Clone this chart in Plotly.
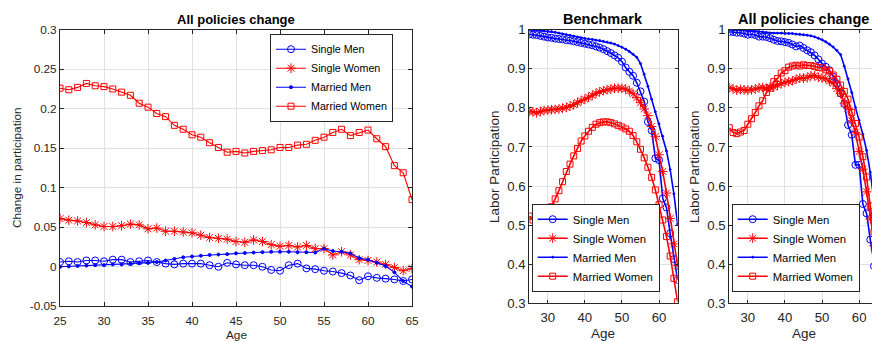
import plotly.graph_objects as go

# ---------------- data ----------------
ages = list(range(25, 66))

series_names = ["Single Men", "Single Women", "Married Men", "Married Women"]

# Left panel: change in participation (all policies - benchmark)
chg_single_men = [0.006, 0.007, 0.006, 0.008, 0.008, 0.007, 0.009, 0.009, 0.006, 0.007,
                  0.008, 0.006, 0.004, 0.003, 0.004, 0.004, 0.004, 0.002, 0.000, 0.005,
                  0.003, 0.002, 0.002, 0.000, -0.004, -0.005, 0.002, 0.004, -0.002, -0.003,
                  -0.005, -0.006, -0.008, -0.011, -0.017, -0.012, -0.014, -0.015, -0.016, -0.018,
                  -0.016]
chg_single_women = [0.061, 0.059, 0.058, 0.056, 0.053, 0.051, 0.051, 0.052, 0.054, 0.053,
                    0.048, 0.049, 0.045, 0.045, 0.044, 0.043, 0.040, 0.037, 0.036, 0.035,
                    0.032, 0.031, 0.034, 0.032, 0.028, 0.026, 0.027, 0.025, 0.027, 0.023,
                    0.023, 0.015, 0.019, 0.015, 0.009, 0.008, 0.006, 0.003, -0.001, -0.005,
                    -0.002]
chg_married_men = [0.000, 0.0005, 0.001, 0.0015, 0.002, 0.002, 0.003, 0.003, 0.004, 0.005,
                   0.005, 0.006, 0.008, 0.010, 0.012, 0.013, 0.014, 0.015, 0.0155, 0.016,
                   0.017, 0.0175, 0.018, 0.0185, 0.019, 0.019, 0.019, 0.0185, 0.0185, 0.018,
                   0.023, 0.020, 0.019, 0.017, 0.011, 0.009, 0.005, 0.001, -0.007, -0.018,
                   -0.025]
chg_married_women = [0.226, 0.224, 0.227, 0.232, 0.229, 0.228, 0.225, 0.221, 0.217, 0.207,
                     0.202, 0.194, 0.190, 0.179, 0.174, 0.167, 0.164, 0.157, 0.151, 0.145,
                     0.146, 0.144, 0.146, 0.147, 0.148, 0.151, 0.151, 0.154, 0.155, 0.160,
                     0.164, 0.170, 0.174, 0.166, 0.170, 0.173, 0.162, 0.152, 0.128, 0.119,
                     0.085]

# Middle panel: benchmark labor participation
bench_single_men = [0.988, 0.987, 0.986, 0.984, 0.982, 0.980, 0.979, 0.977, 0.976, 0.975,
                    0.973, 0.972, 0.970, 0.968, 0.966, 0.964, 0.962, 0.960, 0.957, 0.954,
                    0.950, 0.945, 0.940, 0.934, 0.928, 0.918, 0.903, 0.892, 0.882, 0.864,
                    0.842, 0.816, 0.764, 0.742, 0.671, 0.666, 0.568, 0.545, 0.479, 0.413,
                    0.360]
bench_single_women = [0.790, 0.790, 0.787, 0.791, 0.793, 0.794, 0.795, 0.796, 0.797, 0.799,
                      0.801, 0.804, 0.808, 0.813, 0.818, 0.822, 0.827, 0.832, 0.837, 0.841,
                      0.844, 0.846, 0.848, 0.850, 0.850, 0.850, 0.848, 0.843, 0.836, 0.826,
                      0.813, 0.797, 0.780, 0.752, 0.727, 0.680, 0.637, 0.582, 0.517, 0.452,
                      0.397]
bench_married_men = [1.000, 0.999, 0.999, 0.998, 0.997, 0.996, 0.995, 0.993, 0.991, 0.989,
                     0.987, 0.985, 0.983, 0.981, 0.979, 0.977, 0.976, 0.975, 0.973, 0.972,
                     0.970, 0.968, 0.966, 0.963, 0.959, 0.955, 0.950, 0.944, 0.937, 0.929,
                     0.913, 0.886, 0.855, 0.822, 0.790, 0.759, 0.727, 0.690, 0.642, 0.580,
                     0.502]
bench_married_women = [0.523, 0.513, 0.507, 0.506, 0.513, 0.530, 0.547, 0.567, 0.588, 0.611,
                       0.637, 0.656, 0.677, 0.696, 0.715, 0.728, 0.740, 0.750, 0.758, 0.762,
                       0.764, 0.764, 0.762, 0.759, 0.755, 0.751, 0.746, 0.740, 0.729, 0.713,
                       0.694, 0.672, 0.648, 0.622, 0.590, 0.552, 0.513, 0.471, 0.421, 0.364,
                       0.304]

# Right panel: labor participation with all policies changed
allp_single_men = [0.994, 0.994, 0.992, 0.992, 0.990, 0.987, 0.988, 0.986, 0.982, 0.982,
                   0.981, 0.978, 0.974, 0.971, 0.970, 0.968, 0.966, 0.962, 0.957, 0.959,
                   0.953, 0.947, 0.942, 0.934, 0.924, 0.913, 0.905, 0.896, 0.880, 0.861,
                   0.837, 0.810, 0.756, 0.731, 0.654, 0.654, 0.554, 0.530, 0.463, 0.395,
                   0.344]
allp_single_women = [0.851, 0.849, 0.845, 0.847, 0.846, 0.845, 0.846, 0.848, 0.851, 0.852,
                     0.849, 0.853, 0.853, 0.858, 0.862, 0.865, 0.867, 0.869, 0.873, 0.876,
                     0.876, 0.877, 0.882, 0.882, 0.878, 0.876, 0.875, 0.868, 0.863, 0.849,
                     0.836, 0.812, 0.799, 0.767, 0.736, 0.688, 0.643, 0.585, 0.516, 0.447,
                     0.395]
allp_married_men = [1.000, 0.9995, 1.000, 0.9995, 0.999, 0.998, 0.998, 0.996, 0.995, 0.994,
                    0.992, 0.991, 0.991, 0.991, 0.991, 0.990, 0.990, 0.990, 0.9885, 0.988,
                    0.987, 0.9855, 0.984, 0.9815, 0.978, 0.974, 0.969, 0.9625, 0.9555, 0.947,
                    0.936, 0.906, 0.874, 0.839, 0.801, 0.768, 0.732, 0.691, 0.635, 0.562,
                    0.477]
allp_married_women = [0.749, 0.737, 0.734, 0.738, 0.742, 0.758, 0.772, 0.788, 0.805, 0.818,
                      0.839, 0.850, 0.867, 0.875, 0.889, 0.895, 0.904, 0.907, 0.909, 0.907,
                      0.910, 0.908, 0.908, 0.906, 0.903, 0.902, 0.897, 0.894, 0.884, 0.873,
                      0.858, 0.842, 0.822, 0.788, 0.760, 0.725, 0.675, 0.623, 0.549, 0.483,
                      0.389]

left_yticks = [-0.05, 0, 0.05, 0.1, 0.15, 0.2, 0.25, 0.3]
left_yticktext = ["-0.05", "0", "0.05", "0.1", "0.15", "0.2", "0.25", "0.3"]
left_xticks = [25, 30, 35, 40, 45, 50, 55, 60, 65]
lp_yticks = [0.3, 0.4, 0.5, 0.6, 0.7, 0.8, 0.9, 1.0]
lp_yticktext = ["0.3", "0.4", "0.5", "0.6", "0.7", "0.8", "0.9", "1"]
lp_xticks = [30, 40, 50, 60]

# ---------------- layout helpers ----------------
W, H = 872, 341
FONT = "Liberation Sans, Arial, Helvetica, sans-serif"
AX = "#262626"
GRID = "#e1e1e1"
BLUE = "#0000ff"
RED = "#ff0000"


def px_x(p):
    return p / W


def px_y(p):
    return 1 - p / H


styles = {
    "Single Men": dict(color=BLUE, symbol="circle-open", size=7),
    "Single Women": dict(color=RED, symbol="asterisk-open", size=8),
    "Married Men": dict(color=BLUE, symbol="circle", size=3),
    "Married Women": dict(color=RED, symbol="square-open", size=6),
}

panels = [
    dict(xa="x", ya="y", legend="legend", lw=1.1, dot=3,
         data=[chg_single_men, chg_single_women, chg_married_men, chg_married_women]),
    dict(xa="x2", ya="y2", legend="legend2", lw=1.6, dot=2,
         data=[bench_single_men, bench_single_women, bench_married_men, bench_married_women]),
    dict(xa="x3", ya="y3", legend="legend3", lw=1.6, dot=2,
         data=[allp_single_men, allp_single_women, allp_married_men, allp_married_women]),
]

fig = go.Figure()
for p in panels:
    for name, vals in zip(series_names, p["data"]):
        st = styles[name]
        size = p["dot"] if name == "Married Men" else st["size"]
        fig.add_trace(go.Scatter(
            x=ages, y=vals, name=name, mode="lines+markers",
            xaxis=p["xa"], yaxis=p["ya"], legend=p["legend"],
            line=dict(color=st["color"], width=p["lw"]),
            marker=dict(symbol=st["symbol"], size=size, color=st["color"],
                        line=dict(width=1, color=st["color"])),
        ))


def axis(domain, rng, tickvals, ticktext, fs, ticklen, mirror="ticks", standoff=None):
    d = dict(domain=domain, range=rng, tickvals=tickvals, ticktext=ticktext,
             showline=True, linecolor=AX, linewidth=1, mirror=mirror,
             ticks="inside", ticklen=ticklen, tickwidth=1, tickcolor=AX,
             showgrid=True, gridcolor=GRID, gridwidth=1, zeroline=False,
             automargin=False,
             tickfont=dict(family=FONT, size=fs, color=AX), fixedrange=True)
    if standoff is not None:
        d["ticklabelstandoff"] = standoff
    return d


# pixel geometry of the three axes boxes
L = dict(x0=60, x1=412, y0=29.7, y1=306.3)
M = dict(x0=529.2, x1=677.6, y0=29.6, y1=303.3)
R_x0 = 729.3
yr_per_px = 40 / (M["x1"] - M["x0"])
R_xmax = 25 + (W - R_x0) * yr_per_px

fig.update_layout(
    width=W, height=H,
    margin=dict(l=0, r=0, t=0, b=0, pad=0, autoexpand=False),
    paper_bgcolor="white", plot_bgcolor="white",
    font=dict(family=FONT, color=AX),
    xaxis=axis([px_x(L["x0"]), px_x(L["x1"])], [25, 65], left_xticks,
               [str(v) for v in left_xticks], 11.8, 4, standoff=4),
    yaxis=axis([px_y(L["y1"]), px_y(L["y0"])], [-0.05, 0.3], left_yticks,
               left_yticktext, 11.8, 4),
    xaxis2=axis([px_x(M["x0"]), px_x(M["x1"])], [25, 65], lp_xticks,
                [str(v) for v in lp_xticks], 13.2, 3, standoff=2),
    yaxis2=axis([px_y(M["y1"]), px_y(M["y0"])], [0.3, 1.0], lp_yticks,
                lp_yticktext, 13.2, 3),
    xaxis3=axis([px_x(R_x0), 1.0], [25, R_xmax], lp_xticks,
                [str(v) for v in lp_xticks], 13.2, 3, standoff=2),
    yaxis3=axis([px_y(M["y1"]), px_y(M["y0"])], [0.3, 1.0], lp_yticks,
                lp_yticktext, 13.2, 3, mirror=False),
    showlegend=True,
)
for ax in ["xaxis", "yaxis", "xaxis2", "yaxis2", "xaxis3", "yaxis3"]:
    fig.layout[ax].anchor = {"x": "y", "y": "x"}[ax[0]] + ax[5:]

leg_common = dict(bgcolor="white", bordercolor=AX, borderwidth=1,
                  itemwidth=30, tracegroupgap=0, xanchor="left")
fig.update_layout(
    legend=dict(x=px_x(270), y=px_y(33.7), yanchor="top",
                font=dict(family=FONT, size=10.7, color="black"), **leg_common),
    legend2=dict(x=px_x(531.7), y=px_y(291.7), yanchor="bottom",
                 font=dict(family=FONT, size=11.3, color="black"), **leg_common),
    legend3=dict(x=px_x(731.7), y=px_y(291.7), yanchor="bottom",
                 font=dict(family=FONT, size=11.3, color="black"), **leg_common),
)

ann = []
# titles
ann.append(dict(text="<b>All policies change</b>", x=px_x((L["x0"] + L["x1"]) / 2), y=px_y(20),
                font=dict(family=FONT, size=13, color="black")))
ann.append(dict(text="<b>Benchmark</b>", x=px_x((M["x0"] + M["x1"]) / 2), y=px_y(19),
                font=dict(family=FONT, size=14.5, color="black")))
ann.append(dict(text="<b>All policies change</b>", x=px_x(R_x0 + (M["x1"] - M["x0"]) / 2), y=px_y(19),
                font=dict(family=FONT, size=14.5, color="black")))
# x labels (kept just inside the bottom edge)
ann.append(dict(text="Age", x=px_x((L["x0"] + L["x1"]) / 2), y=px_y(334.5),
                font=dict(family=FONT, size=11.8, color=AX)))
ann.append(dict(text="Age", x=px_x((M["x0"] + M["x1"]) / 2), y=px_y(333),
                font=dict(family=FONT, size=13.5, color=AX)))
ann.append(dict(text="Age", x=px_x(R_x0 + (M["x1"] - M["x0"]) / 2), y=px_y(333),
                font=dict(family=FONT, size=13.5, color=AX)))
# y labels
ann.append(dict(text="Change in participation", x=px_x(17), y=px_y(168), textangle=-90,
                font=dict(family=FONT, size=11.8, color=AX)))
ann.append(dict(text="Labor Participation", x=px_x(494), y=px_y(167), textangle=-90,
                font=dict(family=FONT, size=13.5, color=AX)))
ann.append(dict(text="Labor Participation", x=px_x(694), y=px_y(167), textangle=-90,
                font=dict(family=FONT, size=13.5, color=AX)))
for a in ann:
    a.update(xref="paper", yref="paper", showarrow=False, xanchor="center", yanchor="middle")
fig.update_layout(annotations=ann)

fig.write_html(
    "out.html",
    config={"displayModeBar": False},
    post_script="document.body.style.margin='0';document.body.style.overflow='hidden';",
)
